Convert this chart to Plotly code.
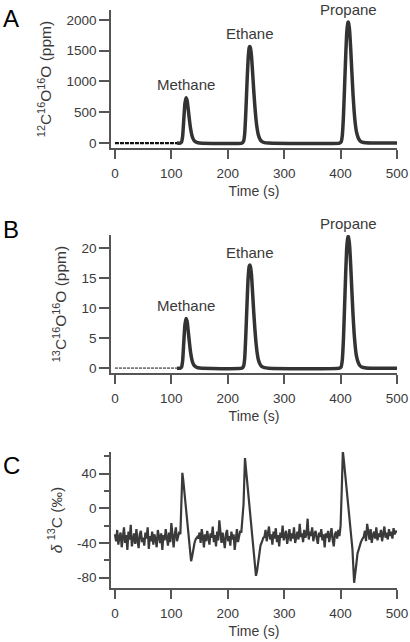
import numpy as np
import plotly.graph_objects as go

# ---------------- data ----------------
peak_names = ["Methane", "Ethane", "Propane"]
peak_times = [126.5, 239, 413.5]

# time grid for panels A and B (s)
AB_time = [110, 116, 118, 120, 122, 124, 126, 128, 130, 132, 134, 136, 138, 141, 145, 150,
           225, 228, 230, 232, 234, 236, 238, 239, 240, 242, 244, 246, 248, 250, 252, 254, 257, 260, 265, 272,
           398, 401, 403, 405, 407, 409, 411, 413, 414, 416, 418, 420, 422, 424, 426, 428, 431, 434, 438, 445, 455, 500]

# 12C16O16O (ppm)
A_ppm = [0, 0, 15, 110, 380, 640, 737, 690, 540, 380, 240, 140, 80, 35, 12, 3,
         0, 30, 150, 500, 950, 1350, 1550, 1566, 1550, 1420, 1150, 860, 600, 390, 240, 140, 65, 28, 8, 0,
         0, 20, 120, 420, 900, 1400, 1800, 1960, 1960, 1820, 1520, 1150, 800, 520, 320, 190, 90, 40, 15, 4, 0, 0]
A_peaks = [737, 1566, 1960]

# 13C16O16O (ppm)
B_ppm = [0, 0, 0.17, 1.24, 4.3, 7.2, 8.3, 7.8, 6.1, 4.3, 2.7, 1.6, 0.9, 0.4, 0.14, 0.03,
         0, 0.33, 1.65, 5.5, 10.4, 14.9, 17.0, 17.2, 17.0, 15.6, 12.6, 9.4, 6.6, 4.3, 2.6, 1.5, 0.7, 0.3, 0.09, 0,
         0, 0.22, 1.34, 4.7, 10.1, 15.7, 20.2, 21.9, 21.9, 20.4, 17.0, 12.9, 9.0, 5.8, 3.6, 2.1, 1.0, 0.45, 0.17, 0.04, 0, 0]
B_peaks = [8.3, 17.2, 21.9]

# early baseline (noisy, drawn thin)
pre_time = [0, 112]
pre_A = [0, 0]
pre_B = [0, 0]

# delta13C (permil) - baseline stretches (evenly spaced within given span)
C_base0_span = [0, 116]
C_base0 = [-30, -38, -25, -42, -33, -28, -45, -35, -22, -40, -31, -48, -27, -36, -19, -44, -33, -29, -41, -24,
           -37, -46, -30, -26, -39, -34, -43, -28, -35, -22, -47, -32, -38, -27, -42, -30, -36, -45, -25, -33,
           -40, -29, -48, -31, -37, -24, -35, -43, -28, -39, -17, -34, -45, -30, -22, -38, -33, -27, -30]
C_meth_t = [117.5, 119.5, 121, 123, 125, 127, 129, 131, 133, 135, 137, 139, 141, 143, 146]
C_meth = [5, 41, 33, 20, 7, -6, -19, -32, -45, -61, -55, -46, -40, -36, -33]
C_base1_span = [148, 224]
C_base1 = [-35, -28, -40, -24, -33, -45, -30, -38, -26, -36, -42, -29, -34, -21, -39, -31, -44, -27, -37, -14,
           -33, -40, -28, -35, -46, -30, -25, -38, -32, -43, -27, -36, -30, -48, -33, -24, -39, -31, -26, -28]
C_eth_t = [228, 230.5, 233, 236, 239, 242, 245, 248, 250, 252, 254, 256, 258, 261, 263]
C_eth = [5, 58, 41, 21, 0, -20, -41, -62, -78, -72, -60, -50, -43, -38, -34]
C_base2_span = [265, 398]
C_base2 = [-33, -25, -38, -29, -21, -36, -30, -42, -27, -35, -23, -39, -31, -44, -28, -34, -20, -37, -30, -26,
           -41, -33, -24, -38, -29, -35, -22, -40, -31, -27, -36, -18, -33, -29, -39, -25, -34, -30, -12, -36,
           -27, -32, -22, -38, -30, -26, -35, -41, -28, -33, -24, -37, -30, -45, -29, -34, -26, -39, -31, -23,
           -36, -44, -30, -27, -35, -25, -32]
C_prop_t = [400, 402, 403, 404, 406, 409, 412, 415, 418, 421, 424, 426, 428, 430, 433, 436, 439]
C_prop = [-20, 20, 45, 66, 54, 35, 15, -5, -26, -47, -86, -77, -64, -52, -44, -39, -35]
C_base3_span = [441, 500]
C_base3 = [-33, -26, -38, -18, -30, -36, -24, -40, -31, -27, -35, -22, -37, -29, -33, -25, -38, -30, -21, -34,
           -28, -36, -24, -32, -27, -35, -23, -30, -26, -28]

x_ticks = [0, 100, 200, 300, 400, 500]
A_ticks = [0, 500, 1000, 1500, 2000]
B_ticks = [0, 5, 10, 15, 20]
C_ticks = [-80, -40, 0, 40]

# ---------------- assemble C series ----------------
def spread(span, vals):
    return list(np.linspace(span[0], span[1], len(vals)))

C_time = (spread(C_base0_span, C_base0) + C_meth_t + spread(C_base1_span, C_base1) + C_eth_t
          + spread(C_base2_span, C_base2) + C_prop_t + spread(C_base3_span, C_base3))
C_vals = C_base0 + C_meth + C_base1 + C_eth + C_base2 + C_prop + C_base3

# ---------------- figure ----------------
FONT = "Liberation Sans, Arial, sans-serif"
TXT = "#3a3a3a"
AX = "#555555"
W, H = 410, 642

fig = go.Figure()
fig.add_trace(go.Scatter(x=pre_time, y=pre_A, mode="lines", xaxis="x", yaxis="y",
                         line=dict(color="#111111", width=2.2, dash="4px,1px")))
fig.add_trace(go.Scatter(x=AB_time, y=A_ppm, mode="lines", xaxis="x", yaxis="y",
                         line=dict(color="#333333", width=3.5, shape="spline", smoothing=0.5)))
fig.add_trace(go.Scatter(x=pre_time, y=pre_B, mode="lines", xaxis="x2", yaxis="y2",
                         line=dict(color="#777777", width=1.8, dash="3px,1px")))
fig.add_trace(go.Scatter(x=AB_time, y=B_ppm, mode="lines", xaxis="x2", yaxis="y2",
                         line=dict(color="#333333", width=3.5, shape="spline", smoothing=0.5)))
fig.add_trace(go.Scatter(x=C_time, y=C_vals, mode="lines", xaxis="x3", yaxis="y3",
                         line=dict(color="#3a3a3a", width=2.2)))

xdom = [111 / W, 397 / W]

def ydom(top, bottom):
    return [1 - bottom / H, 1 - top / H]

def xaxis(anchor):
    return dict(domain=xdom, anchor=anchor, range=[-7, 500], showline=True, linecolor=AX, linewidth=1.5,
                ticks="outside", ticklen=9, tickwidth=1.5, tickcolor=AX, showgrid=False, zeroline=False,
                automargin=False,
                tickvals=x_ticks, ticktext=[str(v) for v in x_ticks], ticklabelstandoff=3,
                tickfont=dict(family=FONT, size=13.5, color=TXT),
                title=dict(text="Time (s)", font=dict(family=FONT, size=14, color=TXT), standoff=6))

def yaxis(anchor, dom, rng, ticks, title):
    return dict(domain=dom, anchor=anchor, range=rng, showline=True, linecolor=AX, linewidth=1.5,
                ticks="outside", ticklen=10, tickwidth=1.5, tickcolor=AX, showgrid=False, zeroline=False,
                automargin=False,
                tickvals=ticks, ticktext=[str(v) for v in ticks],
                tickfont=dict(family=FONT, size=13.5, color=TXT),
                title=dict(text=title, font=dict(family=FONT, size=15.5, color=TXT), standoff=11))

layout = dict(width=W, height=H, margin=dict(l=0, r=0, t=0, b=0), showlegend=False,
              plot_bgcolor="white", paper_bgcolor="white", font=dict(family=FONT, color=TXT),
              xaxis=xaxis("y"), xaxis2=xaxis("y2"), xaxis3=xaxis("y3"),
              yaxis=yaxis("x", ydom(10, 148), [-80, 2160], A_ticks, "<sup>12</sup>C<sup>16</sup>O<sup>16</sup>O (ppm)"),
              yaxis2=yaxis("x2", ydom(235, 373), [-0.8, 22.2], B_ticks, "<sup>13</sup>C<sup>16</sup>O<sup>16</sup>O (ppm)"),
              yaxis3=yaxis("x3", ydom(452, 588), [-92, 65], C_ticks, "<i>δ</i> <sup>13</sup>C (‰)"))
layout["yaxis3"]["minor"] = dict(dtick=20, tick0=0, ticks="outside", ticklen=5, tickwidth=1.5, tickcolor=AX)
fig.update_layout(**layout)

annos = []
for name, t, a, b in zip(peak_names, peak_times, A_peaks, B_peaks):
    annos.append(dict(x=t, y=a, xref="x", yref="y", text=name, showarrow=False, yanchor="middle", yshift=13,
                      font=dict(family=FONT, size=15, color=TXT)))
    annos.append(dict(x=t, y=b, xref="x2", yref="y2", text=name, showarrow=False, yanchor="middle", yshift=13,
                      font=dict(family=FONT, size=15, color=TXT)))
for letter, yc in zip(["A", "B", "C"], [18, 230, 465]):
    annos.append(dict(x=1 / W, y=1 - yc / H, xref="paper", yref="paper", text=letter, showarrow=False,
                      xanchor="left", yanchor="middle", font=dict(family=FONT, size=24, color="#000000")))
fig.update_layout(annotations=annos)

fig.write_html("out.html", config={"displayModeBar": False},
               post_script="document.body.style.margin='0';document.body.style.overflow='hidden';")
